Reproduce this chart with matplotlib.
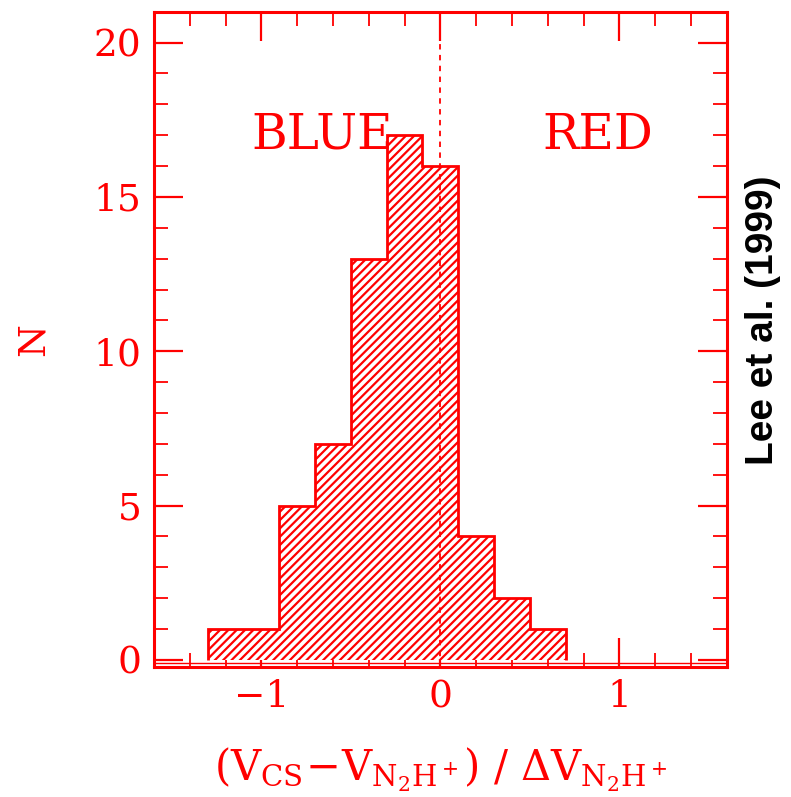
import matplotlib
matplotlib.use("Agg")
import matplotlib.pyplot as plt
from matplotlib.ticker import MultipleLocator, FixedLocator

# Histogram of normalized velocity difference (bin edges and counts)
bin_edges = [-1.3, -1.1, -0.9, -0.7, -0.5, -0.3, -0.1, 0.1, 0.3, 0.5, 0.7]
counts = [1, 1, 5, 7, 13, 17, 16, 4, 2, 1]

x_ticks = [-1, 0, 1]
x_tick_labels = ["\u22121", "0", "1"]
y_ticks = [0, 5, 10, 15, 20]

RED = "#ff0000"
SERIF = ["DejaVu Serif"]

plt.rcParams["hatch.linewidth"] = 1.6
plt.rcParams["mathtext.fontset"] = "dejavuserif"

fig = plt.figure(figsize=(7.91, 7.97), dpi=100)
ax = fig.add_axes([0.1947, 0.1635, 0.9187 - 0.1947, 0.9853 - 0.1635])

widths = [b - a for a, b in zip(bin_edges[:-1], bin_edges[1:])]
ax.bar(bin_edges[:-1], counts, width=widths, align="edge", color="white",
       edgecolor=RED, hatch="////", linewidth=0, zorder=2)
ax.stairs(counts, bin_edges, baseline=0, color=RED, linewidth=2.0, zorder=3)

# zero-difference reference line
ax.axvline(0, color=RED, linewidth=1.3, linestyle=(0, (3, 3)), zorder=4)
ax.axhline(-0.09, color=RED, linewidth=1.0, zorder=4)

ax.set_xlim(-1.6, 1.6)
ax.set_ylim(-0.22, 21)

ax.xaxis.set_major_locator(FixedLocator(x_ticks))
ax.xaxis.set_minor_locator(MultipleLocator(0.2))
ax.yaxis.set_major_locator(FixedLocator(y_ticks))
ax.yaxis.set_minor_locator(MultipleLocator(1))
ax.set_xticklabels(x_tick_labels)

ax.tick_params(which="both", direction="in", top=True, right=True,
               colors=RED, labelcolor=RED)
ax.tick_params(which="major", length=21, width=1.6, pad=9, labelsize=27)
ax.tick_params(which="minor", length=10, width=1.3)
for lab in ax.get_xticklabels() + ax.get_yticklabels():
    lab.set_family(SERIF)

for sp in ax.spines.values():
    sp.set_color(RED)
    sp.set_linewidth(2.2)

ax.text(-0.66, 17.0, "BLUE", color=RED, fontsize=35, family=SERIF,
        ha="center", va="center")
ax.text(0.88, 17.0, "RED", color=RED, fontsize=35, family=SERIF,
        ha="center", va="center")

ax.set_ylabel("N", color=RED, fontsize=27, family=SERIF, labelpad=30)
ax.set_xlabel(r"$\mathregular{(V_{CS}\!-\!V_{N_2H^+})\ /\ \Delta V_{N_2H^+}}$",
              color=RED, fontsize=30, family=SERIF, labelpad=22)

fig.text(0.965, 1 - 320 / 797, "Lee et al. (1999)", rotation=90,
         fontsize=28, fontweight="bold", family=["Liberation Sans"],
         color="black", ha="center", va="center")

fig.savefig("out.png", dpi=100, facecolor="white")
